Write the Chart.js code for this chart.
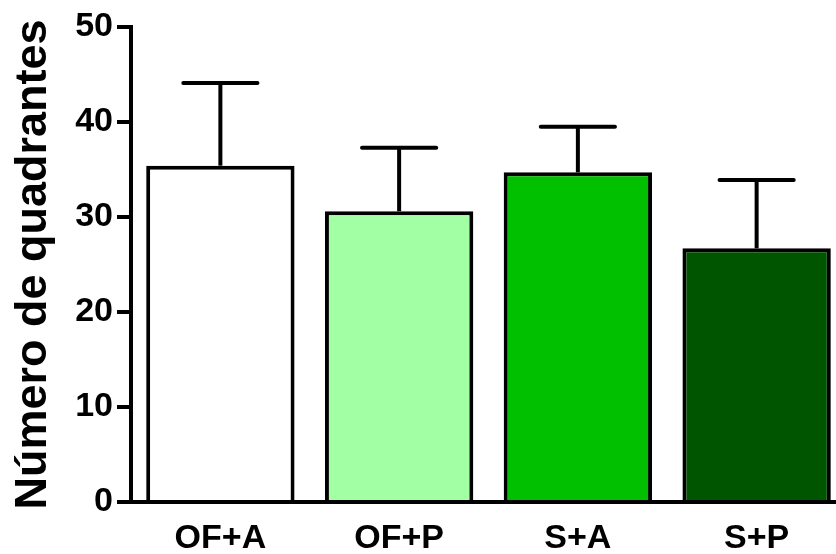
<!DOCTYPE html>
<html>
<head>
<meta charset="utf-8">
<script src="https://cdn.jsdelivr.net/npm/chart.js@4/dist/chart.umd.min.js"></script>
<style>
  html, body { margin: 0; padding: 0; background: #fff; overflow: hidden; }
  canvas { display: block; }
</style>
</head>
<body>
<canvas id="bar-chart" width="846" height="554"></canvas>
<script>
var groups = ["OF+A", "OF+P", "S+A", "S+P"];
var means = [35.4, 30.6, 34.7, 26.7];
var sds = [8.7, 6.7, 4.8, 7.2];
var barColors = ["#ffffff", "#a3ffa3", "#00c000", "#005500"];
var yTicks = [0, 10, 20, 30, 40, 50];

var fontFam = "'Liberation Sans', Arial, Helvetica, sans-serif";

// draws the upward SD whiskers on top of each bar
var errorBars = {
  id: "errorBars",
  afterDatasetsDraw: function(chart) {
    var ctx = chart.ctx;
    var y = chart.scales.y;
    var meta = chart.getDatasetMeta(0);
    ctx.save();
    ctx.strokeStyle = "#000";
    ctx.lineWidth = 4;
    meta.data.forEach(function(bar, i) {
      var top = y.getPixelForValue(means[i] + sds[i]);
      var half = bar.width / 4;
      ctx.lineCap = "butt";
      ctx.beginPath();
      ctx.moveTo(bar.x, bar.y);
      ctx.lineTo(bar.x, top);
      ctx.stroke();
      ctx.lineCap = "round";
      ctx.beginPath();
      ctx.moveTo(bar.x - half, top);
      ctx.lineTo(bar.x + half, top);
      ctx.stroke();
    });
    ctx.restore();
  }
};

var ctx = document.getElementById("bar-chart");
var barChart = new Chart(ctx, {
  type: 'bar',
  data: {
    labels: groups,
    datasets: [
      {
        data: means,
        backgroundColor: barColors,
        borderColor: "#000",
        borderWidth: 4,
        borderSkipped: 'start',
        categoryPercentage: 1,
        barPercentage: 0.83
      }
    ]
  },
  options: {
    responsive: false,
    animation: false,
    devicePixelRatio: 1,
    layout: { padding: { top: 27, left: 0, right: 0, bottom: 0 } },
    plugins: {
      legend: { display: false },
      tooltip: { enabled: false }
    },
    scales: {
      x: {
        grid: { display: false },
        border: { display: true, color: "#000", width: 4 },
        ticks: {
          color: "#000",
          padding: 8,
          maxRotation: 0,
          font: { family: fontFam, size: 34, weight: "bold" }
        },
        afterFit: function(scale) { scale.height = 52; }
      },
      y: {
        min: 0,
        max: 50,
        afterBuildTicks: function(scale) {
          scale.ticks = yTicks.map(function(v) { return { value: v }; });
        },
        grid: {
          drawOnChartArea: false,
          drawTicks: true,
          tickLength: 14,
          color: "#000",
          lineWidth: 4
        },
        border: { display: true, color: "#000", width: 4 },
        ticks: {
          color: "#000",
          padding: 4,
          font: { family: fontFam, size: 34, weight: "bold" }
        },
        title: {
          display: true,
          text: "Número de quadrantes",
          color: "#000",
          padding: { top: 7, bottom: 0 },
          font: { family: fontFam, size: 45, weight: "bold", lineHeight: 1.2 }
        },
        afterFit: function(scale) { scale.width = 131; }
      }
    }
  },
  plugins: [errorBars]
});
</script>
</body>
</html>
